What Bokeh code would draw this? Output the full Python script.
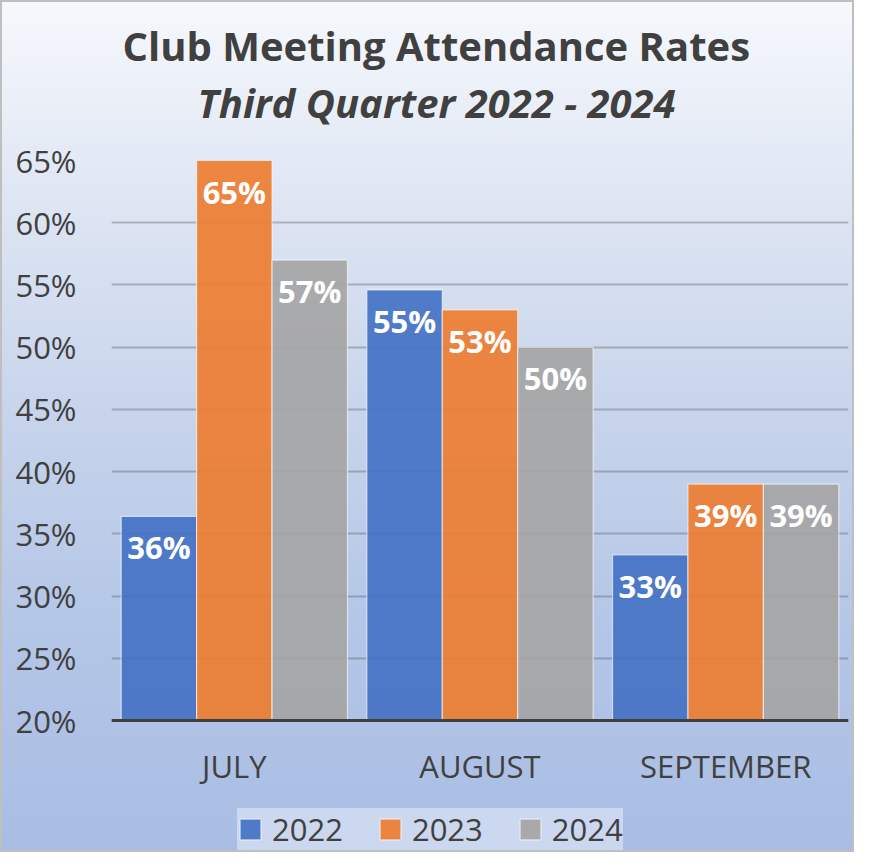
from bokeh.plotting import figure
from bokeh.models import (ColumnDataSource, FactorRange, Range1d, Legend, LegendItem,
                          PrintfTickFormatter, FixedTicker, Title)
from bokeh.transform import dodge
from bokeh.core.properties import value
from bokeh.embed import file_html
from bokeh.resources import INLINE

# ---- data ----
months = ["JULY", "AUGUST", "SEPTEMBER"]
years = ["2022", "2023", "2024"]
rate_2022 = [36.4, 54.6, 33.3]
rate_2023 = [65.0, 53.0, 39.0]
rate_2024 = [57.0, 50.0, 39.0]
y_ticks = [20, 25, 30, 35, 40, 45, 50, 55, 60, 65]
title_text = "Club Meeting Attendance Rates"
subtitle_text = "Third Quarter 2022 - 2024"

# ---- styles / layout ----
FONT = "Open Sans"
TXT = "#404040"
colors = ["#4472C4", "#ED7D31", "#A5A5A5"]
offsets = [-0.307, 0.0, 0.307]
bar_w = 0.307
base = y_ticks[0]
top = y_ticks[-1]
px_per_unit = 560 / (top - base)
bottom_space = 132  # px below the baseline kept inside the frame for labels and legend

p = figure(
    x_range=FactorRange(factors=months, range_padding=0),
    y_range=Range1d(base - bottom_space / px_per_unit, top),
    frame_width=737, frame_height=560 + bottom_space,
    output_backend="svg", toolbar_location=None, title=None,
    min_border_left=111, min_border_right=6,
    min_border_top=160, min_border_bottom=0,
)
p.background_fill_alpha = 0
p.border_fill_alpha = 0
p.outline_line_color = None
p.styles = {
    "background": "linear-gradient(180deg, #f6f8fc 0%, #e0e7f4 22%, #c6d3eb 50%, #b5c7e7 72%, #a9bde4 100%)",
    "box-shadow": "inset 0 0 0 2px #bfbfbf",
}

# grid
p.xgrid.grid_line_color = None
p.ygrid.ticker = FixedTicker(ticks=y_ticks)
p.ygrid.grid_line_color = "#404040"
p.ygrid.grid_line_alpha = 0.3
p.ygrid.grid_line_width = 2

# axes
p.yaxis.ticker = FixedTicker(ticks=y_ticks)
p.yaxis.formatter = PrintfTickFormatter(format="%d%%")
p.yaxis.axis_line_color = None
p.yaxis.major_tick_line_color = None
p.yaxis.minor_tick_line_color = None
p.yaxis.major_tick_out = 0
p.yaxis.major_label_standoff = 35
p.yaxis.major_label_text_font = FONT
p.yaxis.major_label_text_font_size = "31px"
p.yaxis.major_label_text_color = TXT

p.xaxis.fixed_location = base
p.xaxis.axis_line_color = TXT
p.xaxis.axis_line_width = 3
p.xaxis.major_tick_line_color = None
p.xaxis.major_tick_out = 0
p.xaxis.major_label_standoff = 24
p.xaxis.major_label_text_font = FONT
p.xaxis.major_label_text_font_size = "31px"
p.xaxis.major_label_text_color = TXT

items = []
for yr, vals, col, off in zip(years, [rate_2022, rate_2023, rate_2024], colors, offsets):
    src = ColumnDataSource(dict(month=months, rate=vals, label=[f"{round(v)}%" for v in vals]))
    r = p.vbar(x=dodge("month", off, range=p.x_range), top="rate", bottom=base, width=bar_w, source=src,
               fill_color=col, fill_alpha=0.92, line_color="white", line_alpha=0.6, line_width=1.2)
    p.text(x=dodge("month", off, range=p.x_range), y="rate", text="label", source=src,
           text_align="center", text_baseline="top", y_offset=10,
           text_color="white", text_font=value(FONT), text_font_style="bold", text_font_size="31px")
    items.append(LegendItem(label=yr, renderers=[r]))

legend = Legend(items=items, orientation="horizontal", location=(126, 2),
                glyph_width=26, glyph_height=26, label_standoff=9, spacing=34, padding=12, margin=0,
                background_fill_color="white", background_fill_alpha=0.4, border_line_color=None,
                label_text_font=FONT, label_text_font_size="31px", label_text_color=TXT)
p.add_layout(legend, "center")

# spacer between frame and subtitle
p.add_layout(Title(text=" ", text_font_size="10px", standoff=18), "above")
p.add_layout(Title(text=subtitle_text, align="left", offset=86, standoff=0,
                   text_font=FONT, text_font_size="40px", text_font_style="bold italic",
                   text_color=TXT), "above")
p.add_layout(Title(text=title_text, align="left", offset=11, standoff=0,
                   text_font=FONT, text_font_size="40px", text_font_style="bold",
                   text_color=TXT), "above")

open("out.html", "w").write(file_html(p, INLINE))
